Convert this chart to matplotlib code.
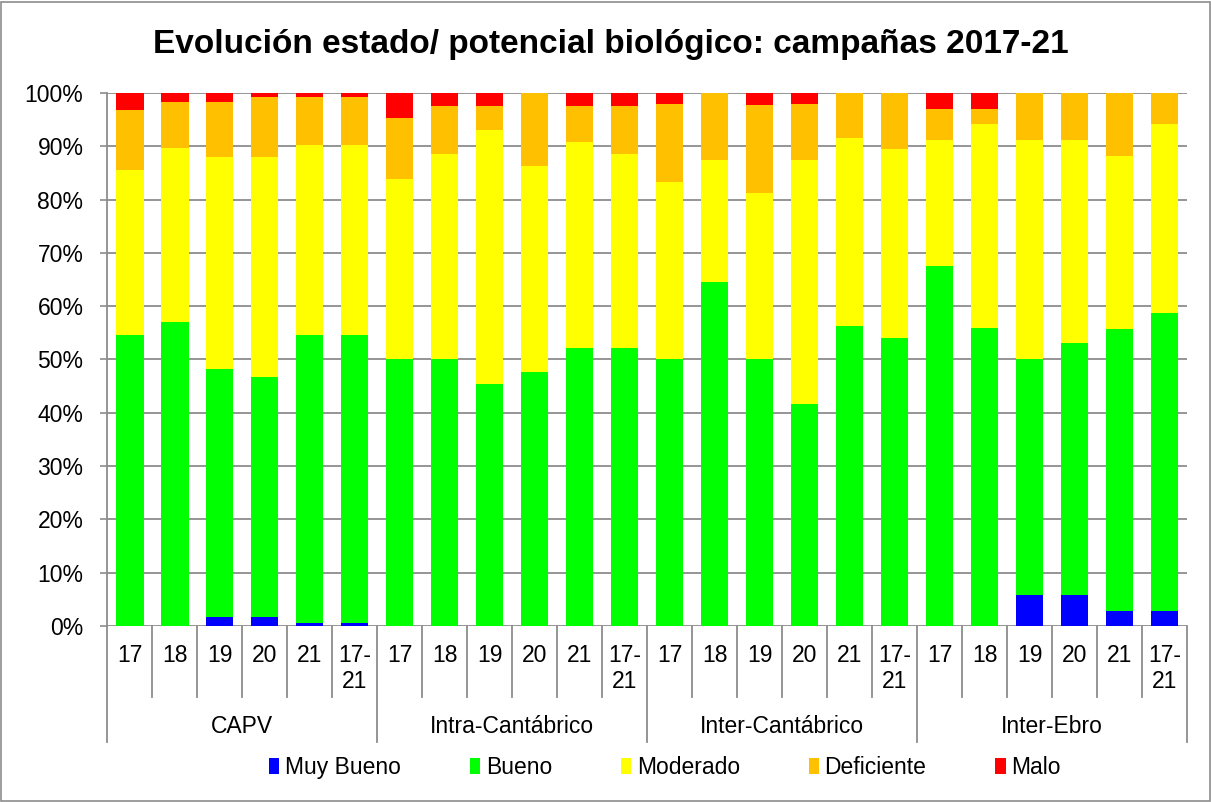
import numpy as np
import matplotlib
matplotlib.use("Agg")
import matplotlib.pyplot as plt
from matplotlib.patches import Rectangle

plt.rcParams['font.family'] = ['Liberation Sans', 'DejaVu Sans']

groups = ["CAPV", "Intra-Cantábrico", "Inter-Cantábrico", "Inter-Ebro"]
years = ["17", "18", "19", "20", "21", "17-\n21"]
states = ["Muy Bueno", "Bueno", "Moderado", "Deficiente", "Malo"]
colors = ["#0000FF", "#00FF00", "#FFFF00", "#FFC000", "#FF0000"]

# porcentajes por barra (grupo x campaña)
muy_bueno = [0, 0, 1.6, 1.6, 0.6, 0.6,
             0, 0, 0, 0, 0, 0,
             0, 0, 0, 0, 0, 0,
             0, 0, 5.9, 5.9, 2.9, 2.9]
bueno = [54.6, 57.0, 46.7, 45.1, 54.0, 54.0,
         50.0, 50.0, 45.4, 47.6, 52.2, 52.2,
         50.0, 64.5, 50.0, 41.7, 56.2, 54.1,
         67.6, 55.9, 44.1, 47.1, 52.9, 55.9]
moderado = [31.0, 32.6, 39.7, 41.3, 35.7, 35.7,
            33.9, 38.5, 47.6, 38.7, 38.6, 36.3,
            33.3, 23.0, 31.2, 45.8, 35.4, 35.4,
            23.5, 38.2, 41.2, 38.2, 32.4, 35.3]
deficiente = [11.2, 8.7, 10.3, 11.3, 9.0, 9.0,
              11.4, 9.1, 4.6, 13.7, 6.8, 9.1,
              14.6, 12.5, 16.6, 10.4, 8.4, 10.5,
              5.9, 2.9, 8.8, 8.8, 11.8, 5.9]
malo = [3.2, 1.7, 1.7, 0.7, 0.7, 0.7,
        4.7, 2.4, 2.4, 0, 2.4, 2.4,
        2.1, 0, 2.2, 2.1, 0, 0,
        3.0, 3.0, 0, 0, 0, 0]

series = [muy_bueno, bueno, moderado, deficiente, malo]
n = len(groups) * len(years)
x = np.arange(n)

fig = plt.figure(figsize=(12.11, 8.02), dpi=100)
fig.patches.append(Rectangle((0.0008, 0.001), 0.9984, 0.997, transform=fig.transFigure,
                             fill=False, edgecolor="#8c8c8c", linewidth=1.2))
ax = fig.add_axes([0.0884, 0.2195, 0.8918, 0.6646])

bottom = np.zeros(n)
for vals, col, lab in zip(series, colors, states):
    vals = np.array(vals, dtype=float)
    ax.bar(x, vals, 0.62, bottom=bottom, color=col, label=lab, zorder=3)
    bottom += vals

ax.set_xlim(-0.5, n - 0.5)
ax.set_ylim(0, 100)
ax.set_yticks(np.arange(0, 101, 10))
ax.set_yticklabels([f"{v}%" for v in range(0, 101, 10)], fontsize=16.5)
ax.yaxis.grid(True, color="#8c8c8c", linewidth=1.3, zorder=0)
ax.tick_params(axis="y", length=5, width=1.2, color="#8c8c8c", pad=12)
for s in ["top", "right", "bottom"]:
    ax.spines[s].set_visible(False)
ax.spines["left"].set_color("#8c8c8c")
ax.spines["left"].set_linewidth(1.3)

# eje de categorias en dos niveles
ax.set_xticks(x)
ax.set_xticklabels(years * len(groups), fontsize=16.5, va="top", linespacing=1.15)
ax.tick_params(axis="x", length=0, pad=13)

trans = ax.get_xaxis_transform()
for i in range(n + 1):
    xb = i - 0.5
    y_end = -0.218 if i % len(years) == 0 else -0.133
    ax.plot([xb, xb], [0, y_end], color="#8c8c8c", linewidth=1.3,
            transform=trans, clip_on=False)
for g, name in enumerate(groups):
    xc = g * len(years) + (len(years) - 1) / 2
    ax.text(xc, -0.188, name, transform=trans, ha="center", va="center", fontsize=16.5)

fig.text(0.504, 0.945, "Evolución estado/ potencial biológico: campañas 2017-21",
         ha="center", va="center", fontsize=24, fontweight="bold")

fig.legend(loc="center", bbox_to_anchor=(0.549, 0.043), ncol=5, frameon=False,
           fontsize=16.5, handlelength=0.45, handleheight=0.75, handletextpad=0.25,
           columnspacing=3.0)

fig.savefig("out.png", dpi=100)
